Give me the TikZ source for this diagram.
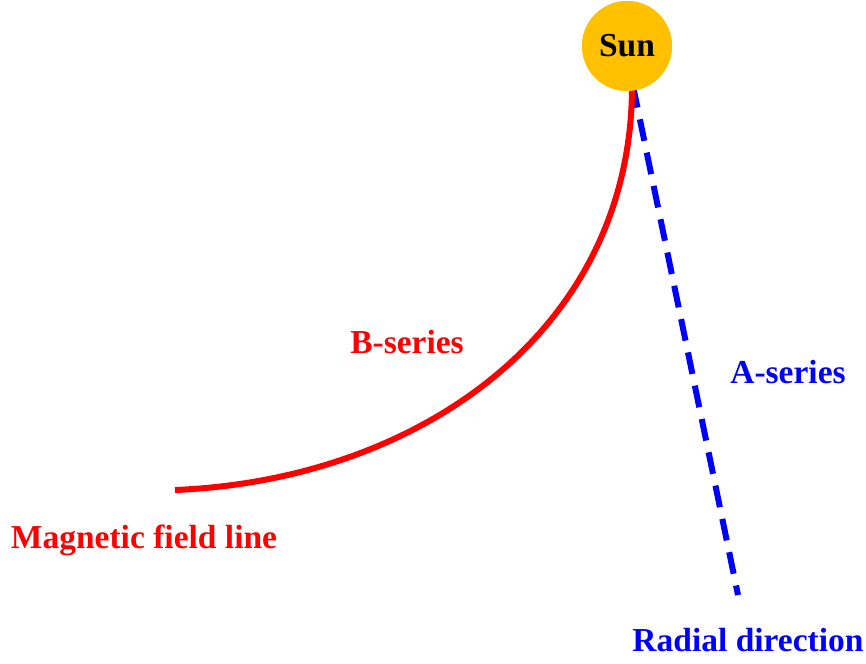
\documentclass[tikz,border=0pt]{standalone}
\usepackage{fontspec}
\setmainfont{Liberation Serif}
\usetikzlibrary{positioning}
\definecolor{sunyellow}{RGB}{255,192,0}

\begin{document}
\begin{tikzpicture}[x=1pt,y=-1pt]
\tikzset{lbl/.style={font=\fontsize{33.5}{36}\selectfont\bfseries,inner sep=0pt},
  fieldline/.style={red,line width=6pt},
  radial/.style={blue,line width=6pt,dash pattern=on 22pt off 12pt}}
\useasboundingbox (0,0) rectangle (866,663);
% lines first, the sun on top
\coordinate (fend) at (175,490);
\coordinate (rend) at (738,595);
\node[circle,fill=sunyellow,minimum size=90pt,inner sep=0pt] (sun) at (627,46) {};
\draw[radial] (633,86) -- (rend);
\draw[fieldline] (632,86) .. controls (632,330) and (420,480) .. (fend);
\node[circle,fill=sunyellow,minimum size=90pt,inner sep=0pt,lbl] at (sun) {Sun};
\node[lbl,red] (bser) at (407,342) {B-series};
\node[lbl,blue] (aser) at (788,372) {A-series};
\node[lbl,red] (mfl) at (144,540) {Magnetic field line};
\node[lbl,blue] (rad) at (748,640) {Radial direction};
\end{tikzpicture}
\end{document}
